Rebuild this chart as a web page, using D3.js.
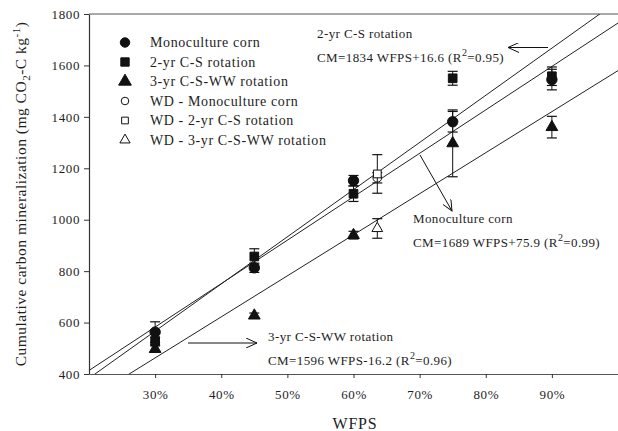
<!DOCTYPE html>
<html>
<head>
<meta charset="utf-8">
<script src="https://cdn.jsdelivr.net/npm/d3@7/dist/d3.min.js"></script>
<style>
body { margin: 0; background: #fff; }
svg text { font-family: "Liberation Serif", "Times New Roman", Times, "DejaVu Serif", serif; fill: #1e1e1e; }
</style>
</head>
<body>
<svg width="618" height="431"></svg>
<script>
// measured points (WFPS as fraction, CM in mg CO2-C/kg)
var wfps = [0.30, 0.45, 0.60, 0.75, 0.90];
var monoCorn = [563, 813, 1152, 1381, 1545];
var monoErr = [40, 18, 20, 40, 40];
var csRotation = [528, 857, 1101, 1550, 1558];
var csErr = [15, 30, 30, 27, 36];
var cswwRotation = [497, 627, 940, 1297, 1360];
var cswwErr = [12, 10, 15, 130, 42];

// WD points
var wdWfps = [0.636];
var wdMono = [1163];
var wdMonoErr = [20];
var wdCs = [1178];
var wdCsErr = [75];
var wdCsww = [966];
var wdCswwErr = [38];

// regression lines CM = a*WFPS + b
var fitNames = ["Monoculture corn", "2-yr C-S rotation", "3-yr C-S-WW rotation"];
var fitSlopes = [1689, 1834, 1596];
var fitIntercepts = [75.9, 16.6, -16.2];
var fitR2 = ["0.99", "0.95", "0.96"];

var xTicks = [0.3, 0.4, 0.5, 0.6, 0.7, 0.8, 0.9];
var yTicks = [400, 600, 800, 1000, 1200, 1400, 1600, 1800];

var legendNames = ["Monoculture corn", "2-yr C-S rotation", "3-yr C-S-WW rotation",
                   "WD - Monoculture corn", "WD - 2-yr C-S rotation", "WD - 3-yr C-S-WW rotation"];

var margin = {top: 14, right: 0, bottom: 57, left: 89},
    width = 618 - margin.left - margin.right,
    height = 431 - margin.top - margin.bottom;

var svg = d3.select("svg");
var g = svg.append("g")
   .attr("transform", "translate(" + margin.left + "," + margin.top + ")");

var x = d3.scaleLinear().domain([0.2, 1.0]).range([0, width]);
var y = d3.scaleLinear().domain([400, 1800]).range([height, 0]);

g.append("clipPath").attr("id", "plot")
   .append("rect").attr("width", width).attr("height", height);

// frame: top border, left axis, bottom axis
g.append("line").attr("x1", 0).attr("x2", width).attr("y1", 0).attr("y2", 0)
   .attr("stroke", "#555").attr("stroke-width", 1.2);

var xAxis = g.append("g")
   .attr("transform", "translate(0," + height + ")")
   .call(d3.axisBottom(x).tickValues(xTicks).tickSize(4).tickSizeOuter(0)
      .tickFormat(d3.format(".0%")));
xAxis.select(".domain").attr("stroke", "#555").attr("stroke-width", 1.2);
xAxis.selectAll(".tick line").attr("stroke", "#333");
xAxis.selectAll("text").attr("dy", "1.42em")
   .attr("font-family", null).style("font-size", "13px")
   .style("letter-spacing", "0.6px");

var yAxis = g.append("g")
   .call(d3.axisLeft(y).tickValues(yTicks).tickSize(5).tickSizeOuter(0)
      .tickFormat(d3.format("d")));
yAxis.select(".domain").attr("stroke", "#333").attr("stroke-width", 1.2);
yAxis.selectAll(".tick line").attr("stroke", "#333");
yAxis.selectAll("text").attr("x", -9)
   .style("font-size", "13px").style("letter-spacing", "0.6px");
xAxis.attr("font-family", null);
yAxis.attr("font-family", null);

// regression lines
g.append("g").attr("clip-path", "url(#plot)")
   .selectAll("line")
   .data(fitSlopes)
   .enter().append("line")
   .attr("x1", x(0.2))
   .attr("y1", function(d, i){ return y(d * 0.2 + fitIntercepts[i]); })
   .attr("x2", x(1.0))
   .attr("y2", function(d, i){ return y(d * 1.0 + fitIntercepts[i]); })
   .attr("stroke", "#222")
   .attr("stroke-width", 1);

// error bars + markers
function drawSeries(xs, vals, errs, shape, size, filled) {
   var s = g.append("g");
   var pts = vals.map(function(v, i){ return {x: xs[i], v: v, e: errs[i]}; });
   var eb = s.selectAll("g.eb").data(pts).enter().append("g").attr("class", "eb");
   eb.append("line")
      .attr("x1", function(d){ return x(d.x); }).attr("x2", function(d){ return x(d.x); })
      .attr("y1", function(d){ return y(d.v - d.e); }).attr("y2", function(d){ return y(d.v + d.e); })
      .attr("stroke", "#111").attr("stroke-width", 1);
   [-1, 1].forEach(function(sg){
      eb.append("line")
         .attr("x1", function(d){ return x(d.x) - 5; }).attr("x2", function(d){ return x(d.x) + 5; })
         .attr("y1", function(d){ return y(d.v + sg * d.e); }).attr("y2", function(d){ return y(d.v + sg * d.e); })
         .attr("stroke", "#111").attr("stroke-width", 1.2);
   });
   s.selectAll("path.m").data(pts).enter().append("path")
      .attr("class", "m")
      .attr("d", d3.symbol().type(shape).size(size))
      .attr("transform", function(d){ return "translate(" + x(d.x) + "," + y(d.v) + ")"; })
      .attr("fill", filled ? "#111" : "#fff")
      .attr("stroke", "#111")
      .attr("stroke-width", 1);
}

drawSeries(wdWfps, wdCsww, wdCswwErr, d3.symbolTriangle, 50, false);
drawSeries(wdWfps, wdMono, wdMonoErr, d3.symbolCircle, 60, false);
drawSeries(wdWfps, wdCs, wdCsErr, d3.symbolSquare, 60, false);
drawSeries(wfps, cswwRotation, cswwErr, d3.symbolTriangle, 60, true);
drawSeries(wfps, csRotation, csErr, d3.symbolSquare, 75, true);
drawSeries(wfps, monoCorn, monoErr, d3.symbolCircle, 85, true);

// legend
var legendShapes = [d3.symbolCircle, d3.symbolSquare, d3.symbolTriangle,
                    d3.symbolCircle, d3.symbolSquare, d3.symbolTriangle];
var legend = svg.append("g").attr("class", "legend");
var li = legend.selectAll("g").data(legendNames).enter().append("g")
   .attr("transform", function(d, i){ return "translate(125," + (42.5 + i * 19.5) + ")"; });
li.append("path")
   .attr("d", function(d, i){ return d3.symbol().type(legendShapes[i]).size(i < 3 ? 70 : 45)(); })
   .attr("fill", function(d, i){ return i < 3 ? "#111" : "#fff"; })
   .attr("stroke", "#111");
li.append("text")
   .attr("x", 25).attr("dy", "0.35em")
   .style("font-size", "14px").style("letter-spacing", "0.6px")
   .text(function(d){ return d; });

// annotations
function equation(sel, i) {
   sel.append("tspan").text("CM=" + fitSlopes[i] + " WFPS" + (fitIntercepts[i] < 0 ? "" : "+") + fitIntercepts[i] + " (R");
   sel.append("tspan").attr("dy", -6).style("font-size", "10px").text("2");
   sel.append("tspan").attr("dy", 6).text("=" + fitR2[i] + ")");
}
var annX = [413, 317, 268];
var annY = [223, 38, 341];
var ann = svg.append("g").selectAll("g").data(fitNames).enter().append("g");
ann.append("text")
   .attr("x", function(d, i){ return annX[i]; })
   .attr("y", function(d, i){ return annY[i]; })
   .style("font-size", "13px").style("letter-spacing", "0.4px")
   .text(function(d){ return d; });
ann.append("text")
   .attr("x", function(d, i){ return annX[i]; })
   .attr("y", function(d, i){ return annY[i] + 24; })
   .style("font-size", "13px").style("letter-spacing", "0.4px")
   .each(function(d, i){ equation(d3.select(this), i); });

// arrows
var defs = svg.append("defs");
defs.append("marker").attr("id", "head")
   .attr("viewBox", "0 0 12 10").attr("refX", 11).attr("refY", 5)
   .attr("markerWidth", 12).attr("markerHeight", 10).attr("markerUnits", "userSpaceOnUse")
   .attr("orient", "auto")
   .append("path").attr("d", "M0,0L11,5L0,10").attr("fill", "none").attr("stroke", "#111");

var arrowFrom = [[420, 155], [548, 47.5], [188, 343]];
var arrowTo = [[452, 211], [508, 47.5], [257, 343]];
svg.append("g").selectAll("line").data(arrowFrom).enter().append("line")
   .attr("x1", function(d){ return d[0]; }).attr("y1", function(d){ return d[1]; })
   .attr("x2", function(d, i){ return arrowTo[i][0]; }).attr("y2", function(d, i){ return arrowTo[i][1]; })
   .attr("stroke", "#111").attr("stroke-width", 1)
   .attr("marker-end", "url(#head)");

// axis titles
svg.append("text")
   .attr("x", 355).attr("y", 429)
   .attr("text-anchor", "middle")
   .style("font-size", "16px").style("letter-spacing", "0.8px")
   .text("WFPS");

var yl = svg.append("text")
   .attr("transform", "translate(26,194) rotate(-90)")
   .attr("text-anchor", "middle")
   .style("font-size", "15.5px").style("letter-spacing", "0.5px");
yl.append("tspan").text("Cumulative carbon mineralization (mg CO");
yl.append("tspan").attr("dy", 4).style("font-size", "11px").text("2");
yl.append("tspan").attr("dy", -4).text("-C kg");
yl.append("tspan").attr("dy", -6).style("font-size", "11px").text("-1");
yl.append("tspan").attr("dy", 6).text(")");
</script>
</body>
</html>
